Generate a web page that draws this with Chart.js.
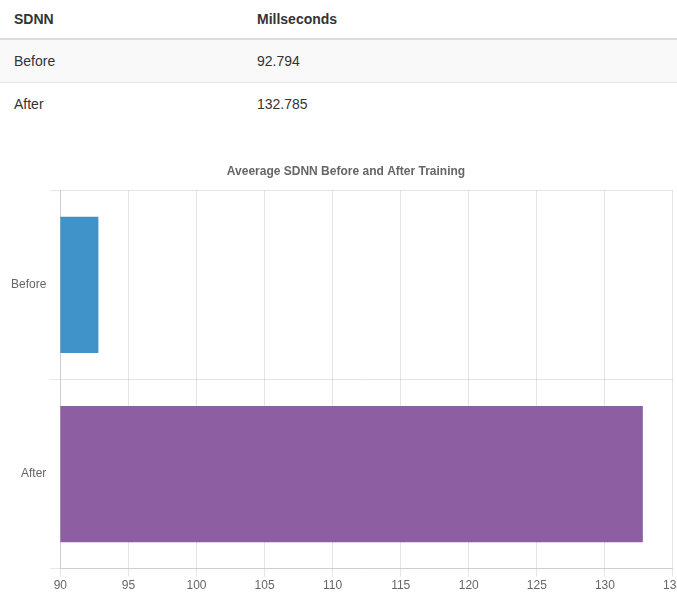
<!DOCTYPE html>
<html>
<head>
<meta charset="utf-8">
<script src="https://cdn.jsdelivr.net/npm/chart.js@4/dist/chart.umd.min.js"></script>
<style>
  html, body { margin: 0; padding: 0; background: #fff; width: 677px; height: 596px; overflow: hidden; }
  body { font-family: "Liberation Sans", Arial, Helvetica, sans-serif; color: #333; position: relative; }
  table { border-collapse: collapse; width: 677px; font-size: 14px; position: absolute; top: 0; left: 0; }
  th, td { text-align: left; padding: 0 0 0 14px; }
  th { height: 38px; border-bottom: 2px solid #ddd; font-weight: bold; }
  td { height: 42px; border-bottom: 1px solid #e6e6e6; }
  tr.striped td { background: #f9f9f9; }
  tr:last-child td { border-bottom: none; }
  th:first-child, td:first-child { width: 229px; }
  #wrap { position: absolute; top: 150px; left: 0; width: 685px; height: 445px; }
</style>
</head>
<body>
<table id="tbl">
  <thead><tr><th id="h0"></th><th id="h1"></th></tr></thead>
  <tbody id="tbody"></tbody>
</table>
<div id="wrap"><canvas id="chart"></canvas></div>
<script>
const headers = ["SDNN", "Millseconds"];
const categories = ["Before", "After"];
const sdnnValues = [92.794, 132.785];
const barColors = ["#4093c9", "#8e5ea2"];
const chartTitle = "Aveerage SDNN Before and After Training";

// summary table
document.getElementById("h0").textContent = headers[0];
document.getElementById("h1").textContent = headers[1];
const tbody = document.getElementById("tbody");
categories.forEach((c, i) => {
  const tr = document.createElement("tr");
  if (i % 2 === 0) tr.className = "striped";
  const a = document.createElement("td"); a.textContent = c;
  const b = document.createElement("td"); b.textContent = String(sdnnValues[i]);
  tr.appendChild(a); tr.appendChild(b);
  tbody.appendChild(tr);
});

Chart.defaults.font.family = "'Liberation Sans', Arial, Helvetica, sans-serif";
Chart.defaults.font.size = 12;
Chart.defaults.color = "#666";

new Chart(document.getElementById("chart"), {
  type: "bar",
  data: {
    labels: categories,
    datasets: [{
      label: "SDNN",
      data: sdnnValues,
      backgroundColor: barColors,
      borderWidth: 0
    }]
  },
  options: {
    indexAxis: "y",
    responsive: true,
    maintainAspectRatio: false,
    animation: false,
    layout: { padding: { left: 7, right: 0, top: 0, bottom: 0 } },
    plugins: {
      legend: { display: false },
      tooltip: { enabled: false },
      title: {
        display: true,
        text: chartTitle,
        font: { size: 12, weight: "bold" },
        color: "#666",
        padding: { top: 14, bottom: 12 }
      }
    },
    scales: {
      x: {
        min: 90,
        max: 135,
        ticks: { stepSize: 5, padding: 2 },
        grid: { color: "rgba(0,0,0,0.1)", tickLength: 8 },
        border: { color: "rgba(0,0,0,0.1)" }
      },
      y: {
        ticks: { padding: 4 },
        grid: { color: "rgba(0,0,0,0.1)", tickLength: 10 },
        border: { color: "rgba(0,0,0,0.1)" }
      }
    }
  }
});
</script>
</body>
</html>
